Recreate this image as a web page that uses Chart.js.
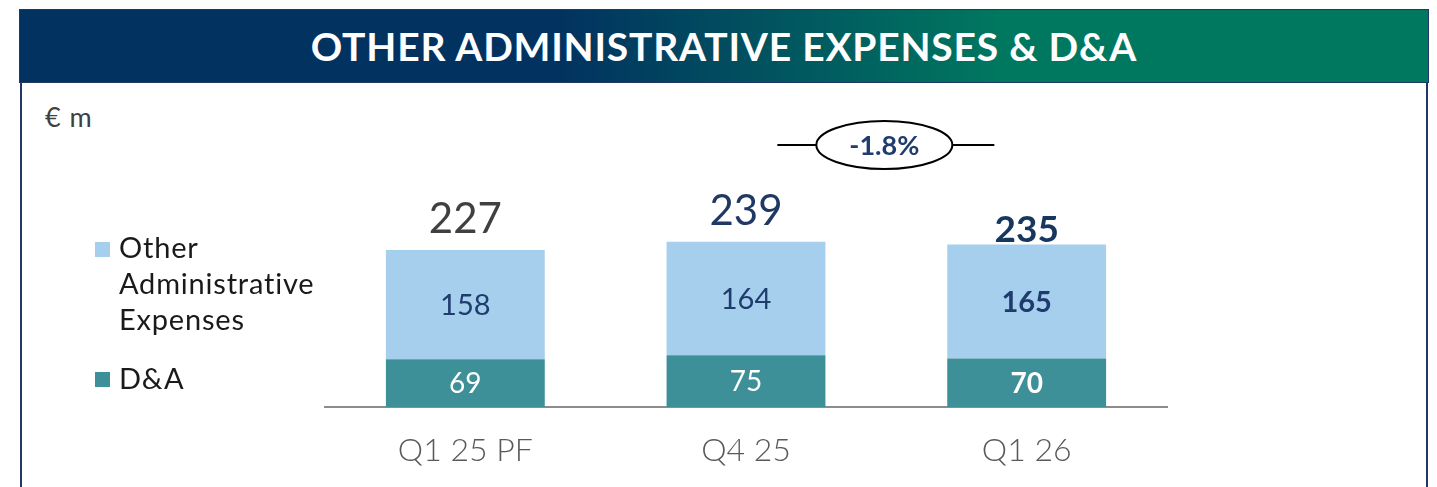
<html lang="en">

<head>
    <meta charset="UTF-8" />
    <title>Other administrative expenses & D&A</title>
</head>
<style>
    body {
        margin: 0;
        width: 1437px;
        height: 487px;
        background: #fff;
        overflow: hidden;
        font-family: 'Lato', 'DejaVu Sans', sans-serif;
    }

    .box {
        position: absolute;
        left: 20px;
        top: 9px;
        width: 1404px;
        height: 490px;
        border: 2px solid #1f3864;
        border-bottom: none;
    }

    .header {
        position: absolute;
        left: 19px;
        top: 9px;
        width: 1410px;
        height: 74px;
        background: linear-gradient(90deg, #02325f 0%, #02325f 38%, #00785f 70%, #00785f 100%);
        border: 1px solid #1f3864;
        box-sizing: border-box;
        color: #fff;
        font-weight: bold;
        font-size: 39px;
        letter-spacing: 0.8px;
        line-height: 72px;
        text-align: center;
    }

    .unit {
        position: absolute;
        left: 45px;
        top: 100px;
        font-size: 27px;
        letter-spacing: 1px;
        color: #404040;
    }

    #wrap {
        position: absolute;
        left: 0;
        top: 0;
    }
</style>

<body>
<div class="box"></div>
<div class="header">OTHER ADMINISTRATIVE EXPENSES &amp; D&amp;A</div>
<div class="unit">€ m</div>
<div id="wrap">
    <canvas id="myChart" width="1437" height="487"></canvas>
</div>

<script src="https://cdn.jsdelivr.net/npm/chart.js"></script>

<script>
    const categories = ['Q1 25 PF', 'Q4 25', 'Q1 26'];
    const daValues = [69, 75, 70];
    const otherValues = [158, 164, 165];
    const totals = [227, 239, 235];
    const change = '-1.8%';

    const navy = '#1f3c6e';
    const ctx = document.querySelector('#myChart');

    // legend drawn on the left, label wrapped word by word
    const sideLegend = {
        id: 'sideLegend',
        afterDraw(chart) {
            const c = chart.ctx;
            c.save();
            c.font = '29px Lato, sans-serif';
            c.letterSpacing = '0.8px';
            c.textBaseline = 'middle';
            const other = chart.data.datasets[1];
            const da = chart.data.datasets[0];
            c.fillStyle = other.backgroundColor;
            c.fillRect(95, 242, 15, 15);
            c.fillStyle = '#1a1a1a';
            other.label.split(' ').forEach((w, i) => c.fillText(w, 119, 249 + i * 36));
            c.fillStyle = da.backgroundColor;
            c.fillRect(95, 372, 15, 15);
            c.fillStyle = '#1a1a1a';
            c.fillText(da.label, 119, 380);
            c.restore();
        }
    };

    const barLabels = {
        id: 'barLabels',
        afterDatasetsDraw(chart) {
            const c = chart.ctx;
            c.save();
            c.textAlign = 'center';
            c.textBaseline = 'middle';
            chart.data.datasets.forEach((ds, di) => {
                chart.getDatasetMeta(di).data.forEach((bar, i) => {
                    const bold = i === 2 ? 'bold ' : '';
                    c.font = bold + (di === 0 ? '28px' : '29px') + ' Lato, sans-serif';
                    c.fillStyle = di === 0 ? '#fff' : navy;
                    c.fillText(ds.data[i], bar.x, (bar.y + bar.base) / 2 + 1);
                });
            });
            // totals above the stack
            const topBars = chart.getDatasetMeta(1).data;
            const totalColors = ['#404040', '#1f3864', '#17375e'];
            c.textBaseline = 'alphabetic';
            topBars.forEach((bar, i) => {
                const bold = i === 2;
                c.font = (bold ? 'bold 37px' : '42px') + ' Lato, sans-serif';
                c.fillStyle = totalColors[i];
                c.fillText(totals[i], bar.x, bar.y - (bold ? 3 : 17));
            });

            // change bubble between the last two bars
            const x = chart.scales.x;
            const cx = (x.getPixelForValue(1) + x.getPixelForValue(2)) / 2 - 2;
            const cy = 145;
            c.strokeStyle = '#000';
            c.lineWidth = 2;
            c.beginPath();
            c.moveTo(cx - 107, cy);
            c.lineTo(cx - 68, cy);
            c.moveTo(cx + 68, cy);
            c.lineTo(cx + 110, cy);
            c.stroke();
            c.beginPath();
            c.ellipse(cx, cy, 68, 24, 0, 0, Math.PI * 2);
            c.stroke();
            c.font = 'bold 27px Lato, sans-serif';
            c.fillStyle = navy;
            c.textBaseline = 'middle';
            c.fillText(change, cx, cy + 1);
            c.restore();
        }
    };

    const myChart = new Chart(ctx, {
        type: 'bar',
        data: {
            labels: categories,
            datasets: [{
                label: 'D&A',
                data: daValues,
                backgroundColor: '#3d8f98',
                stack: 's'
            }, {
                label: 'Other Administrative Expenses',
                data: otherValues,
                backgroundColor: '#a6ceed',
                stack: 's'
            }]
        },
        options: {
            responsive: false,
            animation: false,
            barPercentage: 0.566,
            categoryPercentage: 1,
            layout: {
                padding: { left: 325, right: 270, top: 172, bottom: 0 }
            },
            plugins: {
                legend: { display: false },
                tooltip: { enabled: false }
            },
            scales: {
                x: {
                    stacked: true,
                    grid: { display: false, drawTicks: false },
                    border: { color: '#8c8c8c', width: 2 },
                    ticks: {
                        color: '#595959',
                        padding: 24,
                        font: { family: 'Lato', size: 32, weight: 300 }
                    },
                    afterFit(scale) {
                        scale.height = 80;
                    }
                },
                y: {
                    stacked: true,
                    display: false,
                    min: 0,
                    max: 340
                }
            }
        },
        plugins: [sideLegend, barLabels]
    });
</script>
</body>

</html>
